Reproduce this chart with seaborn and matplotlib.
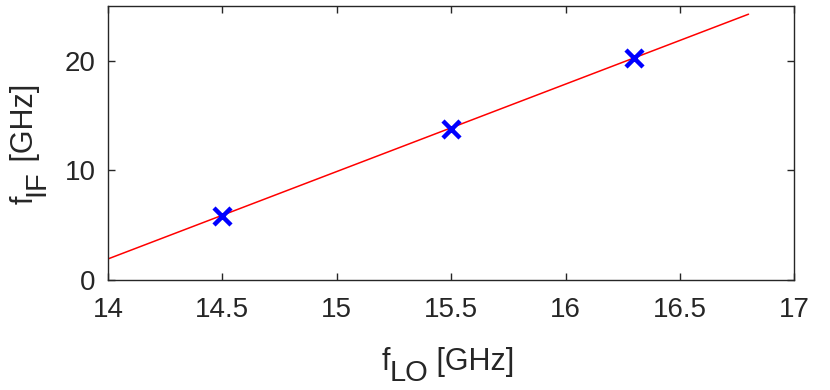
import numpy as np
import pandas as pd
import matplotlib
matplotlib.use("Agg")
import matplotlib.pyplot as plt
import matplotlib.transforms as mtransforms
import seaborn as sns

# ----- dati -----
f_lo = [14.5, 15.5, 16.3]          # GHz, punti misurati
f_if = [5.8, 13.8, 20.2]           # GHz
fit_lo = [14.0, 16.8]              # estremi della retta
fit_if = [1.92, 24.24]

x_ticks = [14, 14.5, 15, 15.5, 16, 16.5, 17]
y_ticks = [0, 10, 20]

TXT = "#262626"


def compose_label(fig, pieces, center, baseline, vertical=False):
    # pieces: (testo, fontsize, abbassamento in px) -> stile pedice MATLAB
    renderer = fig.canvas.get_renderer()
    px = mtransforms.IdentityTransform()
    items = []
    for s, size, drop in pieces:
        t = fig.text(0, 0, s, fontsize=size, color=TXT, transform=px,
                     ha="left", va="baseline")
        w = t.get_window_extent(renderer).width
        items.append((t, w, drop))
    total = sum(w for _, w, _ in items)
    pos = center - total / 2
    for t, w, drop in items:
        if vertical:
            t.set_rotation(90)
            t.set_rotation_mode("anchor")
            t.set_position((baseline + drop, pos))
        else:
            t.set_position((pos, baseline - drop))
        pos += w


sns.set_style("ticks")
plt.rcParams['font.family'] = ['Liberation Sans', 'DejaVu Sans']

fig = plt.figure(figsize=(8.3, 3.9), dpi=100)
ax = fig.add_axes([0.130, 0.282, 0.827, 0.703])

fit_df = pd.DataFrame({"lo": fit_lo, "if": fit_if})
pts_df = pd.DataFrame({"lo": f_lo, "if": f_if})

sns.lineplot(data=fit_df, x="lo", y="if", color="red", linewidth=1.1, ax=ax)
sns.scatterplot(data=pts_df, x="lo", y="if", marker="x", s=150, color="blue",
                linewidth=3.2, ax=ax, zorder=3)

ax.set_xlim(14, 17)
ax.set_ylim(0, 25)
ax.set_xticks(x_ticks)
ax.set_xticklabels([f"{t:g}" for t in x_ticks])
ax.set_yticks(y_ticks)

for s in ax.spines.values():
    s.set_visible(True)
    s.set_color(TXT)
    s.set_linewidth(1.0)
ax.tick_params(direction="in", length=5, width=1.0, color=TXT,
               top=True, right=True, labelsize=20, labelcolor=TXT)
ax.tick_params(axis="x", pad=12)
ax.tick_params(axis="y", pad=9)
ax.set_xlabel("")
ax.set_ylabel("")

# etichette assi con pedice grande (stile MATLAB), coordinate in pixel (origine in basso)
compose_label(fig, [("f", 22, 0), ("LO", 21, 11), (" [GHz]", 22, 0)],
              center=448, baseline=390 - 370)
compose_label(fig, [("f", 22, 0), ("IF", 21, 11), (" [GHz]", 22, 0)],
              center=390 - 144, baseline=33, vertical=True)

fig.savefig("out.png", dpi=100)
